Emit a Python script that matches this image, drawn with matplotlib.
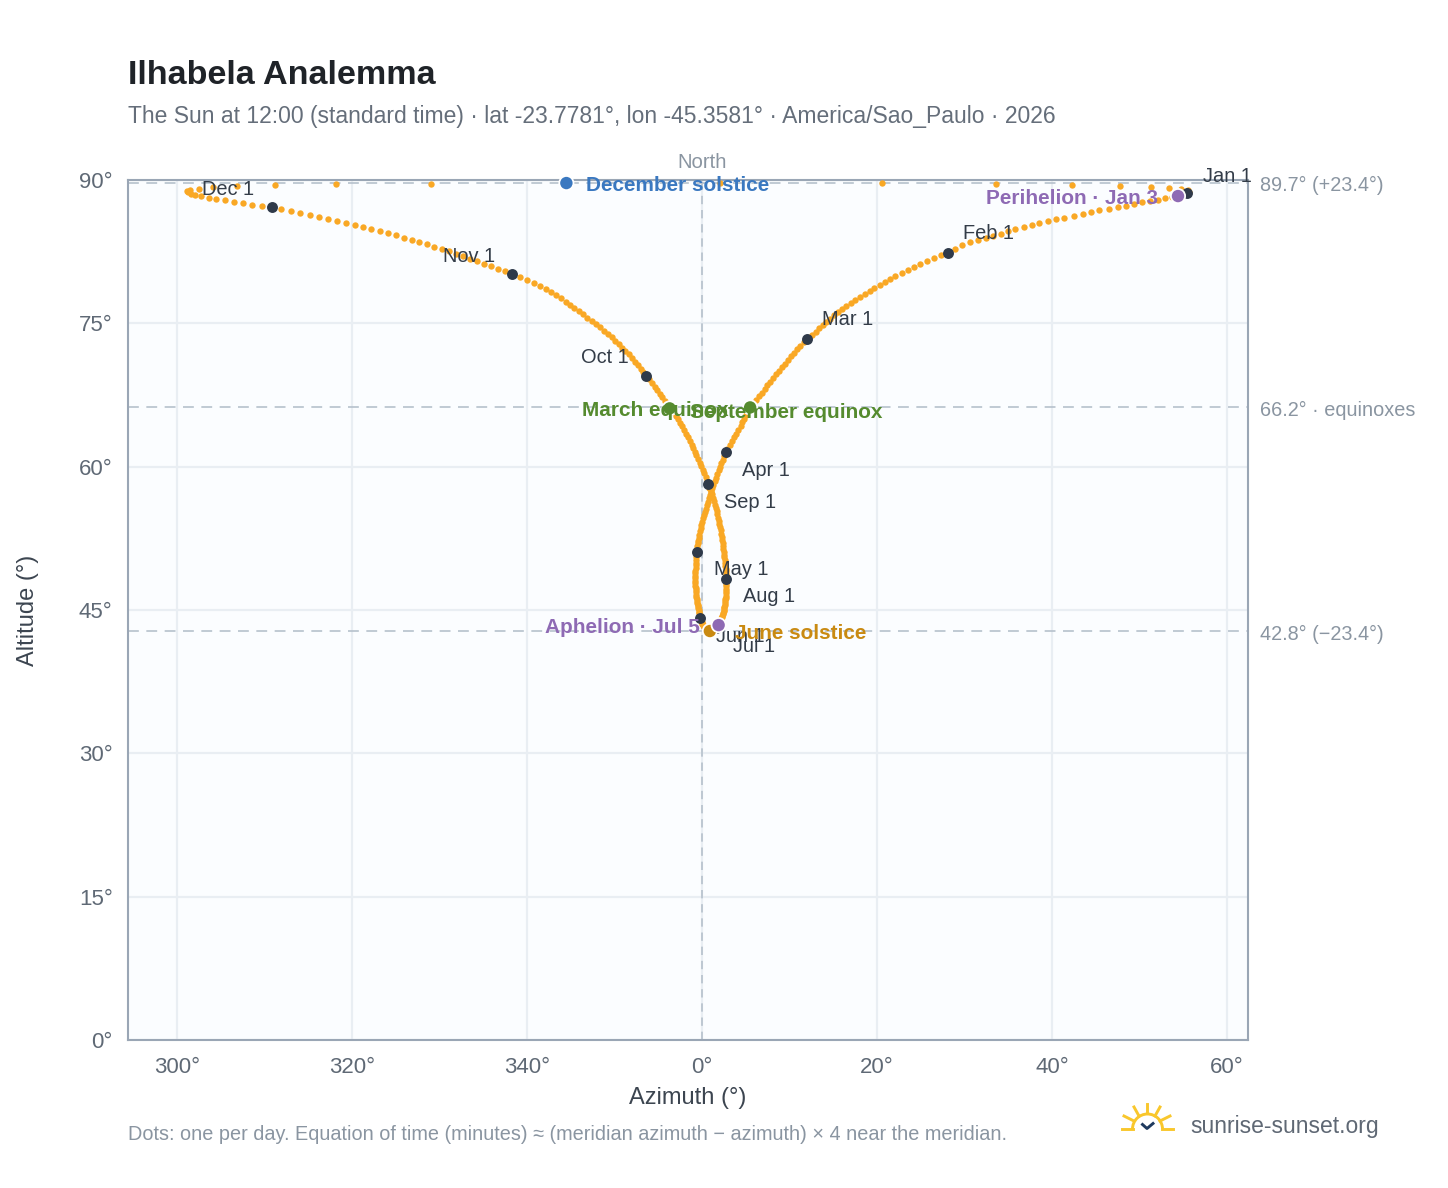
import matplotlib
matplotlib.use("Agg")
import matplotlib.pyplot as plt
from matplotlib.lines import Line2D
from matplotlib.patches import Arc

plt.rcParams['font.family'] = ['Liberation Sans', 'DejaVu Sans']

W, H = 1448, 1188

# daily azimuth (deg, signed from north) and altitude
az_jan = [55.4, 54.9, 54.4, 53.7, 52.9, 52.1, 51.2, 50.3, 49.4, 48.4, 47.5, 46.5, 45.4, 44.4, 43.5, 42.5,
          41.4, 40.5, 39.5, 38.5, 37.7, 36.8, 35.8, 35.0, 34.2, 33.3, 32.4, 31.5, 30.6, 29.7, 28.9]
az_feb = [28.1, 27.3, 26.5, 25.7, 24.9, 24.2, 23.5, 22.8, 22.1, 21.5, 20.9, 20.3, 19.7, 19.15, 18.6, 18.05,
          17.5, 17.0, 16.5, 16.0, 15.55, 15.1, 14.65, 14.2, 13.8, 13.4, 13.0, 12.55]
az_mar = [12.0, 11.6, 11.25, 10.9, 10.55, 10.2, 9.85, 9.5, 9.15, 8.8, 8.47, 8.14, 7.81, 7.48, 7.15, 6.82,
          6.49, 6.16, 5.83, 5.5, 5.25, 5.0, 4.8, 4.6, 4.4, 4.15, 3.9, 3.65, 3.4, 3.15, 2.9]
az_apr = [2.7, 2.53, 2.36, 2.2, 2.05, 1.9, 1.75, 1.6, 1.45, 1.3, 1.17, 1.04, 0.91, 0.78, 0.66, 0.55,
          0.44, 0.33, 0.22, 0.12, 0.03, -0.06, -0.15, -0.23, -0.3, -0.36, -0.42, -0.47, -0.52, -0.56]
az_may = [-0.6, -0.63, -0.66, -0.69, -0.71, -0.73, -0.74, -0.75, -0.76, -0.77, -0.77, -0.77, -0.76, -0.75,
          -0.74, -0.72, -0.7, -0.68, -0.65, -0.62, -0.59, -0.55, -0.51, -0.47, -0.43, -0.39, -0.35, -0.32,
          -0.28, -0.25, -0.22]
az_jun = [-0.2, -0.15, -0.1, -0.05, 0.0, 0.05, 0.1, 0.15, 0.21, 0.25, 0.3, 0.36, 0.42, 0.48, 0.54, 0.6,
          0.66, 0.72, 0.78, 0.84, 0.9, 0.97, 1.04, 1.11, 1.18, 1.25, 1.32, 1.39, 1.46, 1.53]
az_jul = [1.6, 1.67, 1.74, 1.81, 1.9, 1.94, 2.0, 2.06, 2.12, 2.17, 2.22, 2.27, 2.32, 2.37, 2.42, 2.46,
          2.5, 2.54, 2.57, 2.6, 2.63, 2.66, 2.68, 2.7, 2.72, 2.74, 2.75, 2.76, 2.76, 2.77, 2.77]
az_aug = [2.75, 2.75, 2.74, 2.72, 2.69, 2.66, 2.63, 2.6, 2.56, 2.52, 2.48, 2.44, 2.4, 2.36, 2.31, 2.25,
          2.19, 2.13, 2.06, 1.99, 1.92, 1.84, 1.76, 1.68, 1.59, 1.48, 1.37, 1.25, 1.12, 0.98, 0.84]
az_sep = [0.7, 0.55, 0.4, 0.24, 0.07, -0.1, -0.28, -0.46, -0.64, -0.82, -1.01, -1.2, -1.4, -1.6, -1.82,
          -2.04, -2.27, -2.5, -2.74, -2.98, -3.3, -3.7, -3.97, -4.25, -4.53, -4.82, -5.12, -5.42, -5.75, -6.08]
az_oct = [-6.4, -6.7, -7.0, -7.35, -7.7, -8.05, -8.4, -8.75, -9.1, -9.47, -9.9, -10.3, -10.75, -11.2, -11.65,
          -12.1, -12.6, -13.1, -13.6, -14.1, -14.6, -15.1, -15.6, -16.15, -16.7, -17.25, -17.85, -18.5, -19.2,
          -19.95, -20.75]
az_nov = [-21.7, -22.5, -23.3, -24.1, -24.9, -25.7, -26.5, -27.3, -28.1, -28.9, -29.75, -30.6, -31.45, -32.3,
          -33.2, -34.1, -35.0, -35.9, -36.85, -37.8, -38.75, -39.7, -40.7, -41.7, -42.7, -43.75, -44.8, -45.9,
          -47.0, -48.15]
az_dec = [-49.2, -50.3, -51.4, -52.5, -53.5, -54.5, -55.5, -56.4, -57.3, -57.9, -58.4, -58.7, -58.9, -58.5,
          -57.5, -55.9, -53.1, -48.8, -41.8, -31.0, -15.5, 2.0, 20.6, 33.6, 42.3, 47.8, 51.3, 53.4, 54.7,
          55.5, 55.6]

alt_jan = [88.63, 88.48, 88.32, 88.2, 88.07, 87.93, 87.8, 87.65, 87.48, 87.32, 87.15, 86.98, 86.82, 86.63,
           86.44, 86.26, 86.07, 85.87, 85.67, 85.47, 85.26, 85.05, 84.84, 84.62, 84.39, 84.16, 83.94, 83.7,
           83.46, 83.2, 82.8]
alt_feb = [82.4, 82.11, 81.82, 81.52, 81.22, 80.92, 80.62, 80.31, 80.0, 79.69, 79.37, 79.06, 78.74, 78.42,
           78.1, 77.78, 77.46, 77.14, 76.81, 76.48, 76.15, 75.82, 75.49, 75.16, 74.82, 74.48, 74.14, 73.8]
alt_mar = [73.4, 73.04, 72.67, 72.3, 71.93, 71.55, 71.17, 70.79, 70.41, 70.03, 69.65, 69.27, 68.89, 68.51,
           68.13, 67.75, 67.37, 66.98, 66.6, 66.2, 65.81, 65.42, 65.03, 64.64, 64.25, 63.86, 63.47, 63.08,
           62.69, 62.3, 61.9]
alt_apr = [61.5, 61.12, 60.74, 60.36, 59.98, 59.6, 59.23, 58.86, 58.49, 58.12, 57.76, 57.4, 57.04, 56.68,
           56.32, 55.97, 55.62, 55.27, 54.92, 54.58, 54.24, 53.9, 53.56, 53.23, 52.9, 52.57, 52.24, 51.98,
           51.68, 51.38]
alt_may = [51.1, 50.82, 50.53, 50.24, 49.95, 49.67, 49.39, 49.12, 48.85, 48.58, 48.32, 48.06, 47.81, 47.56,
           47.32, 47.08, 46.85, 46.62, 46.4, 46.18, 45.97, 45.76, 45.56, 45.37, 45.18, 45.0, 44.83, 44.66,
           44.5, 44.38, 44.27]
alt_jun = [44.16, 44.03, 43.9, 43.78, 43.67, 43.57, 43.47, 43.38, 43.3, 43.22, 43.15, 43.09, 43.03, 42.98,
           42.93, 42.89, 42.86, 42.83, 42.81, 42.8, 42.8, 42.8, 42.81, 42.83, 42.85, 42.88, 42.92, 42.96,
           43.0, 43.05]
alt_jul = [43.09, 43.16, 43.24, 43.32, 43.42, 43.52, 43.63, 43.74, 43.86, 43.99, 44.12, 44.26, 44.4, 44.55,
           44.7, 44.86, 45.02, 45.19, 45.36, 45.54, 45.72, 45.91, 46.1, 46.3, 46.5, 46.75, 46.98, 47.22,
           47.46, 47.7, 47.95]
alt_aug = [48.25, 48.52, 48.79, 49.06, 49.34, 49.62, 49.91, 50.2, 50.5, 50.8, 51.1, 51.41, 51.72, 52.03,
           52.35, 52.67, 52.99, 53.32, 53.65, 53.98, 54.32, 54.66, 55.0, 55.34, 55.69, 56.04, 56.39, 56.74,
           57.1, 57.45, 57.81]
alt_sep = [58.18, 58.55, 58.92, 59.29, 59.66, 60.03, 60.41, 60.79, 61.17, 61.55, 61.93, 62.31, 62.69, 63.07,
           63.45, 63.83, 64.21, 64.59, 64.97, 65.35, 65.73, 66.1, 66.48, 66.86, 67.24, 67.62, 68.0, 68.38,
           68.76, 69.13]
alt_oct = [69.5, 69.88, 70.26, 70.63, 71.0, 71.37, 71.74, 72.1, 72.46, 72.82, 73.18, 73.53, 73.88, 74.23,
           74.58, 74.93, 75.27, 75.61, 75.95, 76.29, 76.62, 76.95, 77.28, 77.6, 77.92, 78.24, 78.55, 78.86,
           79.17, 79.5, 79.83]
alt_nov = [80.16, 80.43, 80.7, 80.97, 81.24, 81.5, 81.76, 82.02, 82.28, 82.53, 82.78, 83.03, 83.27, 83.51,
           83.75, 83.98, 84.21, 84.44, 84.66, 84.88, 85.1, 85.31, 85.52, 85.72, 85.92, 86.13, 86.34, 86.55,
           86.76, 86.97]
alt_dec = [87.17, 87.28, 87.41, 87.59, 87.73, 87.87, 88.01, 88.14, 88.29, 88.43, 88.58, 88.74, 88.87, 88.95,
           89.09, 89.22, 89.37, 89.44, 89.55, 89.61, 89.68, 89.7, 89.67, 89.6, 89.5, 89.38, 89.31, 89.17,
           89.03, 88.92, 88.78]

az_months = [az_jan, az_feb, az_mar, az_apr, az_may, az_jun, az_jul, az_aug, az_sep, az_oct, az_nov, az_dec]
alt_months = [alt_jan, alt_feb, alt_mar, alt_apr, alt_may, alt_jun, alt_jul, alt_aug, alt_sep, alt_oct, alt_nov, alt_dec]
month_names = ['Jan', 'Feb', 'Mar', 'Apr', 'May', 'Jun', 'Jul', 'Aug', 'Sep', 'Oct', 'Nov', 'Dec']

# labelled events
event_names = ['December solstice', 'March equinox', 'September equinox', 'Perihelion · Jan 3',
               'June solstice', 'Aphelion · Jul 5']
event_az = [-15.5, -3.7, 5.5, 54.4, 0.9, 1.9]
event_alt = [89.68, 66.1, 66.2, 88.32, 42.8, 43.42]
event_colors = ['#3a78c0', '#558b2f', '#558b2f', '#8e6ab4', '#c98a12', '#8e6ab4']

x_ticks = [-60, -40, -20, 0, 20, 40, 60]
x_tick_labels = ['300°', '320°', '340°', '0°', '20°', '40°', '60°']
y_ticks = [0, 15, 30, 45, 60, 75, 90]
y_tick_labels = ['0°', '15°', '30°', '45°', '60°', '75°', '90°']
ref_alts = [89.7, 66.2, 42.8]
ref_labels = ['89.7° (+23.4°)', '66.2° · equinoxes', '42.8° (−23.4°)']

ORANGE = '#f9a825'
DARK = '#2f3a4a'
GRID = '#e9eef3'
DASH = '#b6c1cc'
SPINE = '#9aa6b5'
MUTED = '#8a95a1'


def fx(px):
    return px / W


def fy(py):
    return 1 - py / H


fig = plt.figure(figsize=(W / 100, H / 100), dpi=100)
ax = fig.add_axes([fx(128), fy(1040), 1120 / W, 860 / H])
ax.set_facecolor('#fbfdff')
ax.set_xlim(-65.6, 62.4)
ax.set_ylim(0, 90)
for s in ax.spines.values():
    s.set_color(SPINE)
    s.set_linewidth(1.5)
ax.set_axisbelow(True)
ax.grid(True, color=GRID, linewidth=1.6)
ax.set_xticks(x_ticks)
ax.set_xticklabels(x_tick_labels)
ax.set_yticks(y_ticks)
ax.set_yticklabels(y_tick_labels)
ax.tick_params(axis='x', length=0, labelsize=16, labelcolor='#5f6975', pad=12)
ax.tick_params(axis='y', length=0, labelsize=16, labelcolor='#5f6975', pad=11)
ax.set_xlabel('Azimuth (°)', fontsize=17, color='#3c4550', labelpad=7)
ax.set_ylabel('Altitude (°)', fontsize=17, color='#3c4550', labelpad=29)

ax.axvline(0, color=DASH, lw=1.2, dashes=(5, 3.5), zorder=1.5)
for a in ref_alts:
    ax.axhline(a, color=DASH, lw=1.2, dashes=(6.5, 4.5), zorder=1.5)

all_az = [v for m in az_months for v in m]
all_alt = [v for m in alt_months for v in m]
ax.scatter(all_az, all_alt, s=21, color=ORANGE, linewidths=0, zorder=3, clip_on=False)

# first of each month
first_az = [m[0] for m in az_months]
first_alt = [m[0] for m in alt_months]
ax.scatter(first_az, first_alt, s=62, color=DARK, linewidths=0, zorder=4, clip_on=False)
label_dx = [41, 41, 41, 40, 44, 40, 38, 43, 42, -41, -43, -43]
label_dy = [17, 19, 19, -18, -18, -18, -18, -18, -18, 18, 18, 18]
for name, x, y, dx, dy in zip(month_names, first_az, first_alt, label_dx, label_dy):
    ax.annotate(name + ' 1', (x, y), xytext=(dx * 0.72, dy * 0.72), textcoords='offset points',
                ha='center', va='center', fontsize=14.4, color='#333c48', zorder=5)

# events, white ring round the marker
ax.scatter(event_az, event_alt, s=105, color=event_colors, edgecolors='white', linewidths=1.3,
           zorder=6, clip_on=False)
event_dx = [20, -88, -60, -20, 25, -19]
event_dy = [-2, -2, -5, -2, -2, -2]
event_ha = ['left', 'left', 'left', 'right', 'left', 'right']
for name, x, y, c, dx, dy, ha in zip(event_names, event_az, event_alt, event_colors, event_dx, event_dy, event_ha):
    ax.annotate(name, (x, y), xytext=(dx * 0.72, dy * 0.72), textcoords='offset points', ha=ha,
                va='center', fontsize=14.95, fontweight='bold', color=c, zorder=7)

for a, t in zip(ref_alts, ref_labels):
    ax.annotate(t, (1, a), xycoords=('axes fraction', 'data'), xytext=(12 * 0.72, -3 * 0.72),
                textcoords='offset points', va='center', ha='left', fontsize=14.3, color=MUTED)
ax.annotate('North', (0, 1), xycoords=('data', 'axes fraction'), xytext=(0, 18 * 0.72), textcoords='offset points',
            ha='center', va='center', fontsize=14.6, color=MUTED)

fig.text(fx(128), fy(76), 'Ilhabela Analemma', fontsize=24.55, fontweight='bold', color='#1f2328',
         ha='left', va='center')
fig.text(fx(128), fy(117), 'The Sun at 12:00 (standard time) · lat -23.7781°, lon -45.3581° · America/Sao_Paulo · 2026',
         fontsize=16.5, color='#656e7a', ha='left', va='center')
fig.text(fx(128), fy(1135), 'Dots: one per day. Equation of time (minutes) ≈ (meridian azimuth − azimuth) × 4 near the meridian.',
         fontsize=14.33, color=MUTED, ha='left', va='center')
fig.text(fx(1190), fy(1126), 'sunrise-sunset.org', fontsize=16.45, color='#5f6874', ha='left', va='center')

# logo, drawn in figure pixels
logo = fig.add_axes([0, 0, 1, 1], facecolor='none')
logo.set_xlim(0, W)
logo.set_ylim(H, 0)
logo.axis('off')
SUN = '#f9c72c'
logo.add_patch(Arc((1147.5, 1129), 30, 30, theta1=180, theta2=360, color=SUN, lw=2.1))
for seg in [((1122, 1133), (1129, 1129)), ((1162, 1173), (1129, 1129)), ((1147, 1147), (1104, 1113)),
            ((1134, 1139), (1107, 1116)), ((1160, 1155), (1107, 1116)), ((1124, 1134), (1116, 1121)),
            ((1170, 1160), (1116, 1121))]:
    logo.add_line(Line2D(seg[0], seg[1], color=SUN, lw=2.1))
logo.add_line(Line2D((1142.5, 1147, 1153), (1124.5, 1128.5, 1123.5), color='#1f3a5f', lw=2.1))

fig.savefig('out.png', dpi=100)
